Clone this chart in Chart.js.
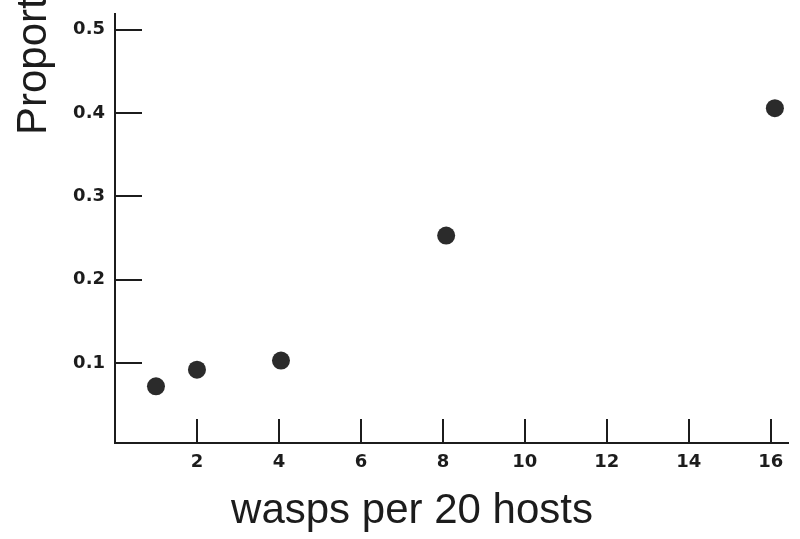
<!DOCTYPE html>
<html>
<head>
<meta charset="utf-8">
<script src="https://cdn.jsdelivr.net/npm/chart.js@4/dist/chart.umd.min.js"></script>
<style>
html,body{margin:0;padding:0;background:#ffffff;}
#c{display:block;}
</style>
</head>
<body>
<canvas id="c" width="800" height="539"></canvas>
<script>
// Data
const waspsPerHost = [1, 2, 4.05, 8.08, 16.1];
const proportion   = [0.072, 0.092, 0.103, 0.253, 0.406];
const xTickValues  = [2, 4, 6, 8, 10, 12, 14, 16];
const yTickValues  = [0.1, 0.2, 0.3, 0.4, 0.5];
const xTitle = 'wasps per 20 hosts';
const yTitle = 'Proportion';

const inkColor = '#1c1c1c';
const tickFont = {family: '"DejaVu Sans", sans-serif', size: 18, weight: 'bold'};
const titleFont = '42px "Liberation Sans", Arial, sans-serif';

const innerTicks = {
  id: 'innerTicks',
  beforeDatasetsDraw(chart) {
    const ctx = chart.ctx;
    const xs = chart.scales.x, ys = chart.scales.y;
    const area = chart.chartArea;
    ctx.save();
    ctx.strokeStyle = inkColor;
    ctx.lineWidth = 2;
    ctx.beginPath();
    xTickValues.forEach(v => {
      const px = Math.round(xs.getPixelForValue(v));
      ctx.moveTo(px, area.bottom);
      ctx.lineTo(px, area.bottom - 24);
    });
    yTickValues.forEach(v => {
      const py = Math.round(ys.getPixelForValue(v));
      ctx.moveTo(area.left, py);
      ctx.lineTo(area.left + 27, py);
    });
    ctx.stroke();
    ctx.restore();
  }
};

const axisTitles = {
  id: 'axisTitles',
  afterDraw(chart) {
    const ctx = chart.ctx;
    ctx.save();
    ctx.font = titleFont;
    ctx.fillStyle = inkColor;
    ctx.textBaseline = 'alphabetic';
    // x title
    ctx.textAlign = 'center';
    ctx.fillText(xTitle, 412, 523);
    // y title (runs off the top edge, as in the reference)
    ctx.translate(46, 135);
    ctx.rotate(-Math.PI / 2);
    ctx.textAlign = 'left';
    ctx.fillText(yTitle, 0, 0);
    ctx.restore();
  }
};

new Chart(document.getElementById('c'), {
  type: 'scatter',
  data: {
    datasets: [{
      data: waspsPerHost.map((x, i) => ({x: x, y: proportion[i]})),
      backgroundColor: '#2b2b2b',
      borderWidth: 0,
      pointRadius: 9,
      pointHoverRadius: 9
    }]
  },
  options: {
    responsive: false,
    animation: false,
    devicePixelRatio: 1,
    layout: {padding: {top: 14, right: 12, left: 0, bottom: 0}},
    plugins: {legend: {display: false}, tooltip: {enabled: false}},
    scales: {
      x: {
        type: 'linear',
        min: 0,
        max: 16.42,
        afterBuildTicks: s => { s.ticks = xTickValues.map(v => ({value: v})); },
        afterFit: s => { s.height = 96; s.paddingLeft = 0; s.paddingRight = 0; },
        grid: {display: false, drawTicks: false},
        border: {display: true, color: inkColor, width: 2},
        ticks: {
          color: inkColor,
          font: tickFont,
          padding: 9,
          maxRotation: 0,
          callback: v => String(v)
        }
      },
      y: {
        type: 'linear',
        min: 0.004,
        max: 0.519,
        afterBuildTicks: s => { s.ticks = yTickValues.map(v => ({value: v})); },
        afterFit: s => { s.width = 115; s.paddingTop = 0; s.paddingBottom = 0; },
        grid: {display: false, drawTicks: false},
        border: {display: true, color: inkColor, width: 2},
        ticks: {
          color: inkColor,
          font: tickFont,
          padding: 10,
          callback: v => Number(v).toFixed(1)
        }
      }
    }
  },
  plugins: [innerTicks, axisTitles]
});
</script>
</body>
</html>
